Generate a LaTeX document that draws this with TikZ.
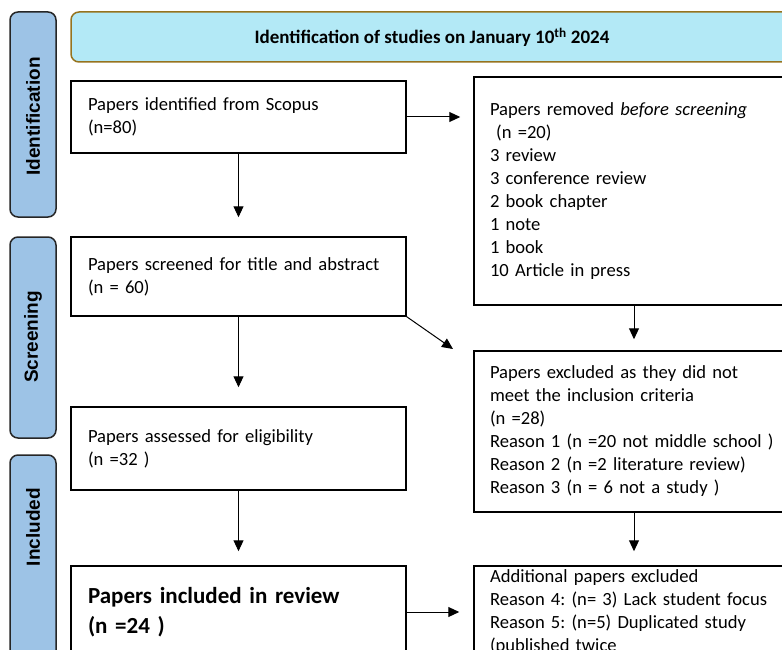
\documentclass[tikz,border=0pt]{standalone}
\usepackage{fontspec}
\setmainfont{Carlito}
\newfontfamily\sidefont{Liberation Sans}
\usetikzlibrary{arrows.meta}
\frenchspacing

\definecolor{sidebar}{RGB}{157,195,230}
\definecolor{banner}{RGB}{179,233,246}
\definecolor{bannerline}{RGB}{150,115,30}

\begin{document}
\begin{tikzpicture}[x=1pt, y=-1pt,
  box/.style={draw, line width=1.5pt, align=left, inner xsep=17pt, text width=301pt, font=\fontsize{18.6}{23}\selectfont},
  rbox/.style={box, inner xsep=16pt, text width=288pt},
  sidebox/.style={draw=black!85, fill=sidebar, line width=1.5pt, rounded corners=8pt, minimum height=46pt},
  sidelabel/.style={rotate=90, font=\sidefont\bfseries\fontsize{19}{21}\selectfont},
  arrow/.style={line width=1pt, -{Triangle[width=10pt,length=11pt]}}]

\useasboundingbox (0,0) rectangle (782,650);
\clip (0,0) rectangle (782,650);

% phases on the left
\node[sidebox, rotate=90, minimum width=205pt] (idbar) at (33,114.5) {};
\node[sidelabel] (idlabel) at (33,116.5) {Identification};
\node[sidebox, rotate=90, minimum width=201pt] (scrbar) at (33,337.5) {};
\node[sidelabel] (scrlabel) at (33,337) {Screening};
\node[sidebox, rotate=90, minimum width=240pt] (incbar) at (33,575) {};
\node[sidelabel] (inclabel) at (33,527) {Included};

\node[draw=bannerline, fill=banner, line width=1.5pt, rounded corners=8pt, minimum width=722pt, minimum height=50pt,
  font=\bfseries\fontsize{19}{21}\selectfont] (title) at (432,37)
  {Identification of studies on January 10\textsuperscript{th} 2024};

% left column
\node[box, minimum height=72pt] (scopus) at (238.5,117) {Papers identified from Scopus\\(n=80)};
\node[box, minimum height=79pt] (screened) at (238.5,276.5) {Papers screened for title and abstract\\(n = 60)};
\node[box, minimum height=83pt] (assessed) at (238.5,448.5) {Papers assessed for eligibility\\(n =32 )};
\node[box, minimum height=92pt, font=\bfseries\fontsize{23}{30}\selectfont] (included) at (238.5,612)
  {Papers included in review\\(n =24 )};

% right column
\node[rbox, minimum height=228pt] (removed) at (634,191)
  {Papers removed \textit{before screening}\\\ (n =20)\\3 review\\3 conference review\\2 book chapter\\1 note\\1 book\\10 Article in press};
\node[rbox, minimum height=161pt] (excluded) at (634,431.5)
  {Papers excluded as they did not\\meet the inclusion criteria\\(n =28)\\Reason 1 (n =20 not middle school )\\Reason 2 (n =2 literature review)\\Reason 3 (n = 6 not a study )};
\node[rbox, minimum height=92pt] (extra) at (634,612)
  {Additional papers excluded\\Reason 4: (n= 3) Lack student focus\\Reason 5: (n=5) Duplicated study\\(published twice};

\coordinate (diagtip) at (453,349);

\draw[arrow, shorten >=13pt] (scopus.east) -- (removed.west |- scopus.east);
\draw[arrow, shorten >=19pt] (scopus.south) -- (screened.north);
\draw[arrow, shorten >=19pt] (screened.south) -- (assessed.north);
\draw[arrow, shorten >=14pt] (assessed.south) -- (included.north);
\draw[arrow] (screened.south east) -- (diagtip);
\draw[arrow, shorten >=11pt] (removed.south) -- (excluded.north);
\draw[arrow, shorten >=14pt] (excluded.south) -- (extra.north);
\draw[arrow, shorten >=14pt] (included.east) -- (extra.west |- included.east);

\end{tikzpicture}
\end{document}
